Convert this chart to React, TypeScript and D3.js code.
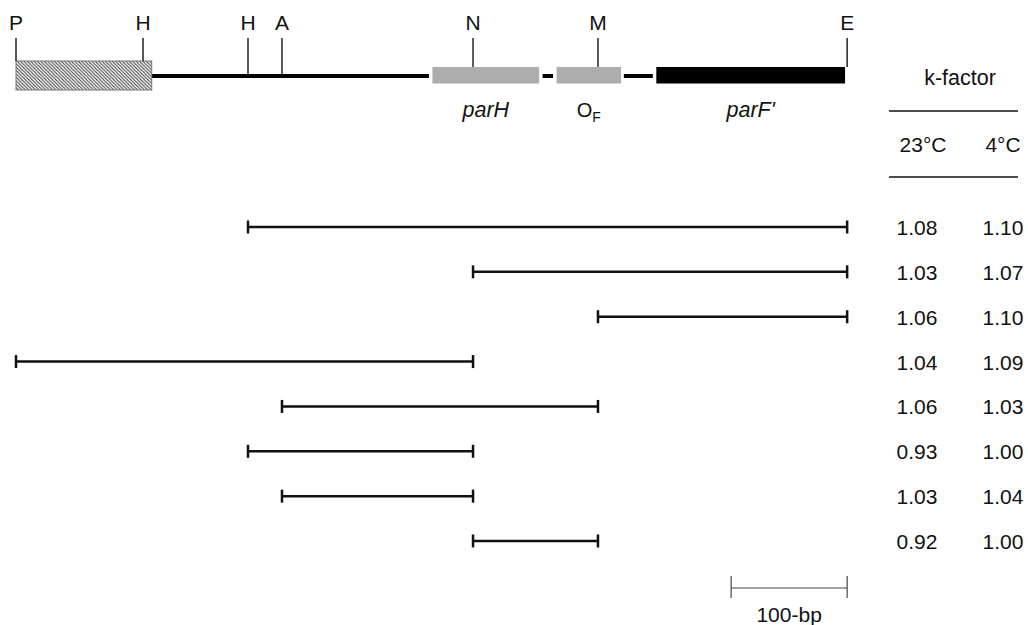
import React from "react";
import * as d3 from "d3";

// Restriction sites (bp from P)
const siteNames = ["P", "H", "H", "A", "N", "M", "E"];
const sitePos = [0, 109.5, 200, 229.3, 394, 501.7, 716.5];
const siteBase = ["hatch", "hatch", "line", "line", "box", "box", "box"];

// Map features (bp)
const hatchRegion = [0, 117];
const geneNames = ["parH", "OF", "parF'"];
const geneStart = [359, 466, 552];
const geneEnd = [451, 521.6, 714.7];
const geneFill = ["#adadad", "#adadad", "#000000"];
const backboneStart = [117, 454, 524];
const backboneEnd = [356, 463, 549];

// Fragments (bp)
const fragStart = [200, 394, 501.7, 0, 229.3, 200, 229.3, 394];
const fragEnd = [716.5, 716.5, 716.5, 394, 501.7, 394, 394, 501.7];
const k23 = ["1.08", "1.03", "1.06", "1.04", "1.06", "0.93", "1.03", "0.92"];
const k4 = ["1.10", "1.07", "1.10", "1.09", "1.03", "1.00", "1.04", "1.00"];

const scaleBarBp = [616.5, 716.5];

export default function App() {
  const font = "'Liberation Sans', Arial, sans-serif";
  const x = d3.scaleLinear().domain([0, 100]).range([16, 132]);
  const y = d3
    .scalePoint<number>()
    .domain(d3.range(fragStart.length))
    .range([227, 541]);
  const lineY = 76;
  const geneTop = 67;
  const geneH = 16.5;
  const tickTop = 38;
  const baseFor = (b: string) => (b === "hatch" ? 61 : b === "line" ? 74 : geneTop);
  const col1 = 917;
  const col2 = 1003;
  const endTick = 6.5;

  return (
    <svg
      width={1028}
      height={625}
      style={{ position: "absolute", left: 0, top: 0, background: "#fff" }}
      fontFamily={font}
    >
      <defs>
        <pattern id="hatch" patternUnits="userSpaceOnUse" width={3.4} height={3.4}>
          <rect width={3.4} height={3.4} fill="#fff" />
          <path
            d="M0,0 L3.4,3.4 M-1,2.4 L1,4.4 M2.4,-1 L4.4,1"
            stroke="#333"
            strokeWidth={1}
          />
        </pattern>
      </defs>

      {/* backbone */}
      {backboneStart.map((s, i) => (
        <line
          key={"bb" + i}
          x1={x(s)}
          x2={x(backboneEnd[i])}
          y1={lineY}
          y2={lineY}
          stroke="#000"
          strokeWidth={4}
        />
      ))}

      {/* hatched region */}
      <rect
        x={x(hatchRegion[0])}
        y={61}
        width={x(hatchRegion[1]) - x(hatchRegion[0])}
        height={29}
        fill="url(#hatch)"
        stroke="#777"
        strokeWidth={1}
      />

      {/* genes */}
      {geneStart.map((s, i) => (
        <rect
          key={"g" + i}
          x={x(s)}
          y={geneTop}
          width={x(geneEnd[i]) - x(s)}
          height={geneH}
          fill={geneFill[i]}
        />
      ))}

      {/* sites */}
      {sitePos.map((p, i) => (
        <g key={"s" + i}>
          <line
            x1={x(p)}
            x2={x(p)}
            y1={tickTop}
            y2={baseFor(siteBase[i])}
            stroke="#222"
            strokeWidth={1.5}
          />
          <text x={x(p)} y={30} textAnchor="middle" fontSize={21} fill="#111">
            {siteNames[i]}
          </text>
        </g>
      ))}

      {/* gene labels */}
      {geneNames.map((n, i) => {
        const cx = (x(geneStart[i]) + x(geneEnd[i])) / 2;
        if (n === "OF") {
          return (
            <text key={"gl" + i} x={cx} y={117} textAnchor="middle" fontSize={20} fill="#111">
              O
              <tspan fontSize={14} dy={5}>
                F
              </tspan>
            </text>
          );
        }
        return (
          <text
            key={"gl" + i}
            x={cx}
            y={117}
            textAnchor="middle"
            fontSize={21.5}
            fontStyle="italic"
            fill="#111"
          >
            {n}
          </text>
        );
      })}

      {/* table header */}
      <text x={960} y={85} textAnchor="middle" fontSize={21.5} fill="#111">
        k-factor
      </text>
      <line x1={889} x2={1018} y1={111} y2={111} stroke="#111" strokeWidth={1.5} />
      <text x={923} y={152} textAnchor="middle" fontSize={21} fill="#111">
        23°C
      </text>
      <text x={col2} y={152} textAnchor="middle" fontSize={21} fill="#111">
        4°C
      </text>
      <line x1={889} x2={1018} y1={177} y2={177} stroke="#111" strokeWidth={1.5} />

      {/* fragments */}
      {fragStart.map((s, i) => {
        const yy = y(i) as number;
        const x1 = x(s);
        const x2 = x(fragEnd[i]);
        return (
          <g key={"f" + i}>
            <line x1={x1} x2={x2} y1={yy} y2={yy} stroke="#111" strokeWidth={2.5} />
            <line x1={x1} x2={x1} y1={yy - endTick} y2={yy + endTick} stroke="#111" strokeWidth={2.5} />
            <line x1={x2} x2={x2} y1={yy - endTick} y2={yy + endTick} stroke="#111" strokeWidth={2.5} />
            <text x={col1} y={yy + 8} textAnchor="middle" fontSize={21} fill="#111">
              {k23[i]}
            </text>
            <text x={col2} y={yy + 8} textAnchor="middle" fontSize={21} fill="#111">
              {k4[i]}
            </text>
          </g>
        );
      })}

      {/* scale bar */}
      <g>
        <line
          x1={x(scaleBarBp[0])}
          x2={x(scaleBarBp[1])}
          y1={588}
          y2={588}
          stroke="#444"
          strokeWidth={1.2}
        />
        <line x1={x(scaleBarBp[0])} x2={x(scaleBarBp[0])} y1={576} y2={598} stroke="#444" strokeWidth={1.2} />
        <line x1={x(scaleBarBp[1])} x2={x(scaleBarBp[1])} y1={576} y2={598} stroke="#444" strokeWidth={1.2} />
        <text
          x={(x(scaleBarBp[0]) + x(scaleBarBp[1])) / 2}
          y={622}
          textAnchor="middle"
          fontSize={21}
          fill="#111"
        >
          100-bp
        </text>
      </g>
    </svg>
  );
}
